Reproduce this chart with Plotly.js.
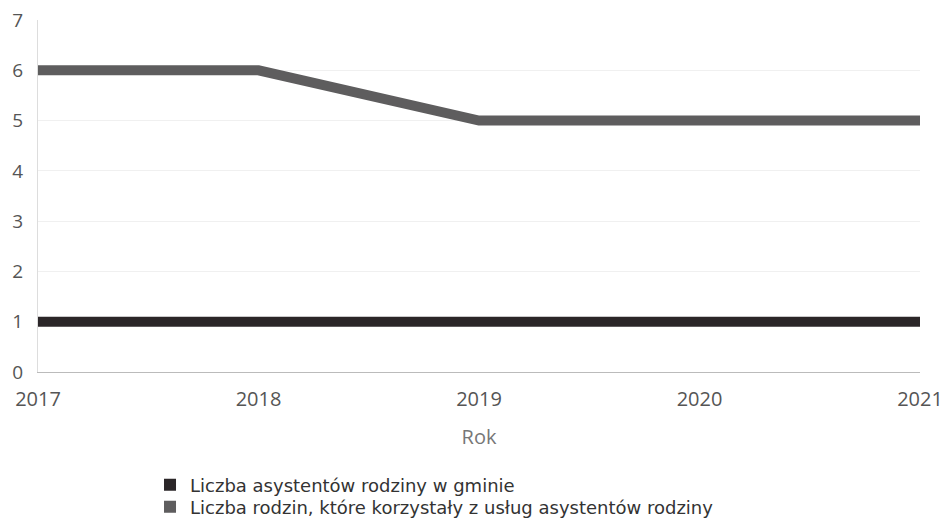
<!DOCTYPE html>
<html><head><meta charset="utf-8">
<script src="https://cdn.plot.ly/plotly-3.0.1.min.js"></script>
<style>body{margin:0;background:#fff}#c{width:944px;height:521px}</style>
</head><body><div id="c"></div>
<script>
const years = ["2017","2018","2019","2020","2021"];
const asystenci = [1,1,1,1,1];
const rodziny = [6,6,5,5,5];
const names = ["Liczba asystentów rodziny w gminie","Liczba rodzin, które korzystały z usług asystentów rodziny"];
const colors = ["#2b2628","#5e5d5e"];
const yTicks = [0,1,2,3,4,5,6,7];

const xi = years.map(Number);
const traces = [
  {x: xi, y: asystenci, mode:"lines", line:{color:colors[0], width:10}, showlegend:false, hoverinfo:"skip"},
  {x: xi, y: rodziny, mode:"lines", line:{color:colors[1], width:10}, showlegend:false, hoverinfo:"skip"},
  {x:[null], y:[null], mode:"markers", name:names[0], legend:"legend", marker:{symbol:"square", size:12, color:colors[0]}},
  {x:[null], y:[null], mode:"markers", name:names[1], legend:"legend2", marker:{symbol:"square", size:12, color:colors[1]}}
];
const legFont = {family:"DejaVu Sans, sans-serif", size:18, color:"#333"};
const layout = {
  width:944, height:521,
  margin:{l:38, r:24, t:20, b:149, autoexpand:false},
  paper_bgcolor:"#fff", plot_bgcolor:"#fff",
  font:{family:"Open Sans, sans-serif", color:"#555", size:20},
  xaxis:{range:[2017,2021], tickvals:xi, ticktext:years, showgrid:false, zeroline:false,
    showline:true, linecolor:"#bbb", linewidth:1, ticks:"", automargin:false, ticklabelstandoff:9,
    title:{text:"Rok", font:{size:20, color:"#777"}, standoff:18}},
  yaxis:{range:[0,7], tickvals:yTicks, showgrid:true, gridcolor:"#f0f0f0", zeroline:false,
    showline:true, linecolor:"#ddd", linewidth:1, ticks:"", automargin:false, ticklabelstandoff:10,
    tickfont:{size:19}},
  legend:{x:0.127, xanchor:"left", y:(372-485)/352, yanchor:"middle",
    font:legFont, itemwidth:30, bgcolor:"rgba(0,0,0,0)"},
  legend2:{x:0.127, xanchor:"left", y:(372-507)/352, yanchor:"middle",
    font:legFont, itemwidth:30, bgcolor:"rgba(0,0,0,0)"}
};
Plotly.newPlot("c", traces, layout, {staticPlot:true});
</script></body></html>
